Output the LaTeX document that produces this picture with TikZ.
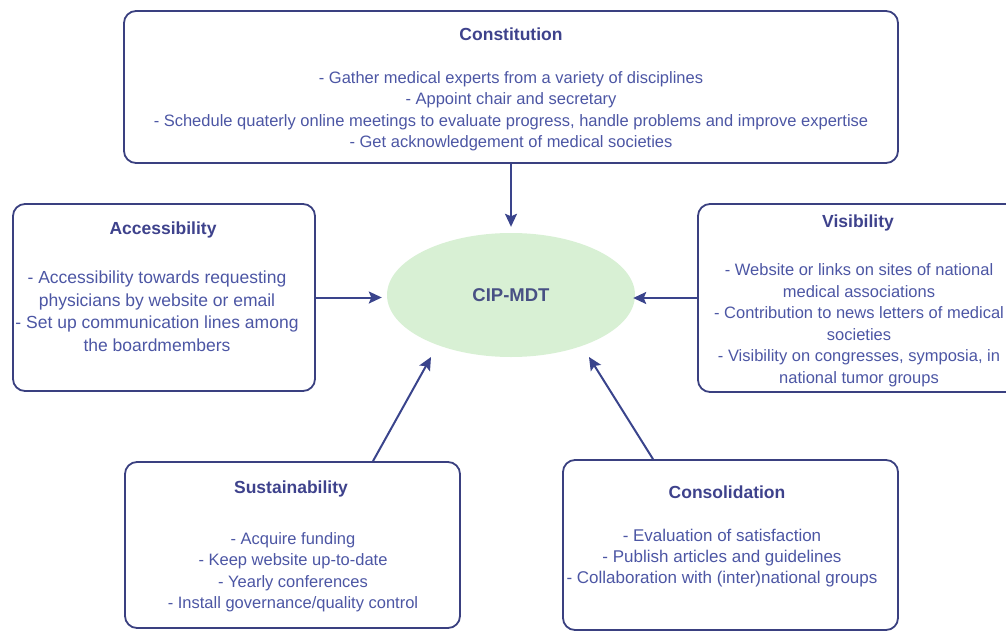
\documentclass[tikz,border=0pt]{standalone}
\usepackage{fontspec}
\setmainfont{Liberation Sans}
\usetikzlibrary{arrows.meta,shapes.geometric,calc}
\definecolor{bordc}{RGB}{58,64,128}
\definecolor{titc}{RGB}{62,66,140}
\definecolor{bodc}{RGB}{76,86,164}
\definecolor{arrc}{RGB}{58,68,140}
\definecolor{ellc}{RGB}{216,240,212}
\definecolor{cipc}{RGB}{72,80,132}
\begin{document}
\begin{tikzpicture}[x=1pt,y=-1pt,
  box/.style={draw=bordc, line width=1.8pt, rounded corners=12pt, inner sep=0pt},
  ttl/.style={text=titc, font=\fontsize{17.5}{21}\selectfont\bfseries, inner sep=0pt},
  body/.style={text=bodc, font=\fontsize{16.5}{21.5}\selectfont, align=center, inner sep=0pt},
  arr/.style={draw=arrc, line width=2pt, -{Stealth[length=13pt,width=12pt,inset=2.5pt]}}]
\useasboundingbox (0,0) rectangle (1006,634);
\clip (0,0) rectangle (1006,634);

% central ellipse
\node[ellipse, fill=ellc, minimum width=248pt, minimum height=124pt, inner sep=0pt,
      text=cipc, font=\fontsize{18.5}{22}\selectfont\bfseries] (cip) at (511,295) {CIP-MDT};

% boxes
\node[box, minimum width=774pt, minimum height=152pt] (constbox) at (511,87) {};
\node[box, minimum width=302pt, minimum height=187pt] (accbox) at (164,297.5) {};
\node[box, minimum width=324pt, minimum height=188pt] (visbox) at (860,298) {};
\node[box, minimum width=335pt, minimum height=166pt] (sustbox) at (292.5,545) {};
\node[box, minimum width=335pt, minimum height=170pt] (consbox) at (730.5,545) {};

% titles
\node[ttl] (constt) at (511,34) {Constitution};
\node[ttl] (acct) at (163,230) {Accessibility};
\node[ttl] (vist) at (858,223) {Visibility};
\node[ttl] (sustt) at (291,489) {Sustainability};
\node[ttl] (const) at (727,492) {Consolidation};

% bodies
\node[body] (constb) at (511,111) {- Gather medical experts from a variety of disciplines\\
- Appoint chair and secretary\\
- Schedule quaterly online meetings to evaluate progress, handle problems and improve expertise\\
- Get acknowledgement of medical societies};
\node[body, font=\fontsize{17.5}{22.5}\selectfont] (accb) at (157,311) {- Accessibility towards requesting\\
physicians by website or email\\
- Set up communication lines among\\
the boardmembers};
\node[body] (visb) at (859,325) {- Website or links on sites of national\\
medical associations\\
- Contribution to news letters of medical\\
societies\\
- Visibility on congresses, symposia, in\\
national tumor groups};
\node[body] (sustb) at (293,572) {- Acquire funding\\
- Keep website up-to-date\\
- Yearly conferences\\
- Install governance/quality control};
\node[body, font=\fontsize{17}{21}\selectfont] (consb) at (722,558) {- Evaluation of satisfaction\\
- Publish articles and guidelines\\
- Collaboration with (inter)national groups};

% arrow tips near the ellipse
\coordinate (sustTip) at (431,357);
\coordinate (consTip) at (589,357);

% connectors
\draw[arr, shorten >=6pt] (constbox.south) -- (cip.north);
\draw[arr, shorten >=5pt] (accbox.east) -- (accbox.east -| cip.west);
\draw[arr, shorten >=-2pt] (visbox.west) -- (visbox.west -| cip.east);
\draw[arr] ([xshift=80.5pt]sustbox.north) -- (sustTip);
\draw[arr] ([xshift=-77.5pt]consbox.north) -- (consTip);
\end{tikzpicture}
\end{document}
